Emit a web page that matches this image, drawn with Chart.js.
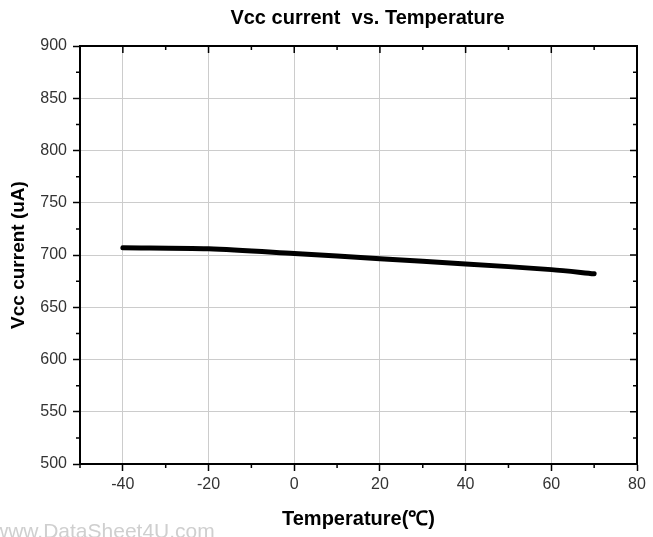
<!DOCTYPE html>
<html lang="en">
<head>
  <meta charset="UTF-8">
  <title>Vcc current vs. Temperature</title>
  <script src="https://cdn.jsdelivr.net/npm/chart.js"></script>
  <style>
    body {
      margin: 0;
      padding: 0;
      background-color: white;
      font-family: Arial, 'Liberation Sans', sans-serif;
    }

    #wrap {
      position: relative;
      width: 653px;
      height: 537px;
      overflow: hidden;
    }

    #watermark {
      position: absolute;
      left: -7px;
      top: 519px;
      font-size: 21px;
      color: #cfcfcf;
      white-space: nowrap;
    }
  </style>
</head>
<body>

<div id="wrap">
  <canvas id="vccChart" width="653" height="537"></canvas>
  <div id="watermark">www.DataSheet4U.com</div>
</div>

<script>
  // values
  var temps = [-40, -20, 0, 20, 40, 60, 70];
  var vccCurrent = [707, 706, 701.5, 696.5, 691.5, 686, 682];
  var xTicks = [-40, -20, 0, 20, 40, 60, 80];
  var xMinorTicks = [-50, -30, -10, 10, 30, 50, 70];
  var yTicks = [500, 550, 600, 650, 700, 750, 800, 850, 900];
  var yMinorTicks = [525, 575, 625, 675, 725, 775, 825, 875];
  var chartTitle = 'Vcc current  vs. Temperature';

  // title + frame + minor ticks + inward ticks on top/right
  var framePlugin = {
    id: 'frame',
    afterDraw: function(chart) {
      var c = chart.ctx;
      var a = chart.chartArea;
      var xs = chart.scales.x;
      var ys = chart.scales.y;
      c.save();
      c.strokeStyle = '#000';
      c.lineWidth = 1.5;
      c.beginPath();
      xTicks.forEach(function(v) {
        var px = xs.getPixelForValue(v);
        c.moveTo(px, a.top); c.lineTo(px, a.top + 7);
      });
      xMinorTicks.forEach(function(v) {
        var px = xs.getPixelForValue(v);
        c.moveTo(px, a.bottom); c.lineTo(px, a.bottom + 4);
        c.moveTo(px, a.top); c.lineTo(px, a.top + 4);
      });
      yTicks.forEach(function(v) {
        var py = ys.getPixelForValue(v);
        c.moveTo(a.right, py); c.lineTo(a.right - 7, py);
      });
      yMinorTicks.forEach(function(v) {
        var py = ys.getPixelForValue(v);
        c.moveTo(a.left, py); c.lineTo(a.left - 4, py);
        c.moveTo(a.right, py); c.lineTo(a.right - 4, py);
      });
      c.stroke();
      c.lineWidth = 2;
      c.strokeRect(a.left, a.top, a.right - a.left, a.bottom - a.top);

      c.fillStyle = '#000';
      c.font = 'bold 20px Arial';
      c.textAlign = 'center';
      c.textBaseline = 'middle';
      c.fillText(chartTitle, (a.left + a.right) / 2 + 9, 18);
      c.restore();
    }
  };

  var ctx = document.getElementById('vccChart').getContext('2d');

  var vccChart = new Chart(ctx, {
    type: 'line',
    data: {
      datasets: [{
        data: temps.map(function(t, i) { return { x: t, y: vccCurrent[i] }; }),
        borderColor: '#000',
        borderWidth: 5,
        borderCapStyle: 'round',
        pointRadius: 0,
        tension: 0.3,
        fill: false
      }]
    },
    options: {
      responsive: false,
      animation: false,
      layout: {
        padding: { left: 0, right: 16, top: 46, bottom: 6 }
      },
      scales: {
        x: {
          type: 'linear',
          min: -50,
          max: 80,
          afterBuildTicks: function(scale) {
            scale.ticks = xTicks.map(function(v) { return { value: v }; });
          },
          afterFit: function(scale) { scale.height = 67; },
          grid: {
            color: '#cccccc',
            lineWidth: 1,
            tickColor: '#000',
            tickLength: 7,
            tickWidth: 1.5
          },
          border: { color: '#000', width: 2 },
          ticks: {
            color: '#333',
            padding: 4,
            maxRotation: 0,
            font: { family: 'Arial', size: 16 }
          },
          title: {
            display: true,
            text: 'Temperature(℃)',
            color: '#000',
            padding: { top: 4, bottom: 0 },
            font: { family: 'Arial', size: 20, weight: 'bold' }
          }
        },
        y: {
          min: 500,
          max: 900,
          afterBuildTicks: function(scale) {
            scale.ticks = yTicks.map(function(v) { return { value: v }; });
          },
          afterFit: function(scale) { scale.width = 80; },
          grid: {
            color: '#cccccc',
            lineWidth: 1,
            tickColor: '#000',
            tickLength: 7,
            tickWidth: 1.5
          },
          border: { color: '#000', width: 2 },
          ticks: {
            color: '#333',
            padding: 6,
            font: { family: 'Arial', size: 16 }
          },
          title: {
            display: true,
            text: 'Vcc current (uA)',
            color: '#000',
            padding: { top: 7, bottom: 4 },
            font: { family: 'Arial', size: 19, weight: 'bold' }
          }
        }
      },
      plugins: {
        legend: { display: false },
        tooltip: { enabled: false },
        title: { display: false }
      }
    },
    plugins: [framePlugin]
  });
</script>

</body>
</html>
